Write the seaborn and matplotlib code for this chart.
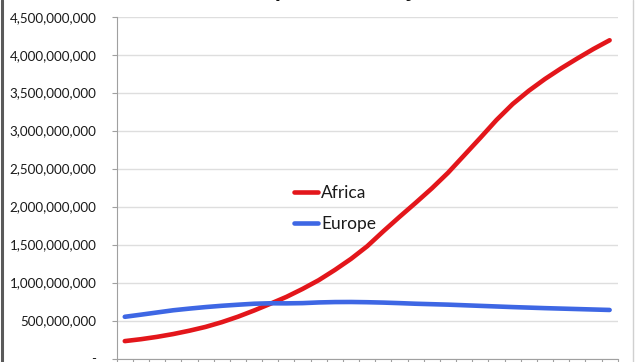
import numpy as np
import pandas as pd
import matplotlib
matplotlib.use("Agg")
import matplotlib.pyplot as plt
import seaborn as sns
from matplotlib.ticker import FuncFormatter
from matplotlib.lines import Line2D
from matplotlib.font_manager import FontProperties

# ---- data ----
years = list(range(1950, 2101, 5))
africa = [0.229, 0.254, 0.285, 0.322, 0.366, 0.416, 0.478, 0.550, 0.632, 0.720,
          0.811, 0.916, 1.031, 1.166, 1.312, 1.478, 1.675, 1.865, 2.050, 2.240,
          2.445, 2.675, 2.905, 3.140, 3.350, 3.525, 3.680, 3.820, 3.950, 4.075, 4.190]
europe = [0.549, 0.577, 0.606, 0.635, 0.657, 0.677, 0.694, 0.708, 0.721, 0.727,
          0.726, 0.729, 0.738, 0.743, 0.744, 0.741, 0.736, 0.729, 0.721, 0.715,
          0.709, 0.701, 0.693, 0.685, 0.677, 0.670, 0.663, 0.657, 0.651, 0.645, 0.639]
series_names = ["Africa", "Europe"]
y_ticks = [0, 5e8, 1e9, 1.5e9, 2e9, 2.5e9, 3e9, 3.5e9, 4e9, 4.5e9]
title = "Population Projections"

africa_abs = [v * 1e9 for v in africa]
europe_abs = [v * 1e9 for v in europe]

sns.set_theme(style="white")
plt.rcParams['font.family'] = ['Lato', 'DejaVu Sans']

W, H = 642, 362
fig = plt.figure(figsize=(W / 100, H / 100), dpi=100)
fig.patch.set_facecolor("white")
x0, x1, ytop, ybot = 116.7, 617.7, 16.7, 358.5
ax = fig.add_axes([x0 / W, 1 - ybot / H, (x1 - x0) / W, (ybot - ytop) / H])

df = pd.DataFrame({
    "Year": years * 2,
    "Population": africa_abs + europe_abs,
    "Region": [series_names[0]] * len(years) + [series_names[1]] * len(years),
})
palette = {"Africa": "#E3161B", "Europe": "#3E67E4"}
sns.lineplot(data=df, x="Year", y="Population", hue="Region", palette=palette,
             linewidth=3.3, ax=ax, legend=False, solid_capstyle="round",
             solid_joinstyle="round")

ax.set_xlim(years[0] - 2.5, years[-1] + 2.5)
ax.set_ylim(0, 4.5e9)
ax.set_yticks(y_ticks)
ax.yaxis.set_major_formatter(FuncFormatter(lambda v, p: f"{int(round(v)):,}" if v else "-"))
bounds = [years[0] - 2.5 + 5 * k for k in range(len(years) + 1)]
ax.set_xticks(bounds)
ax.set_xticklabels([""] * len(bounds))
ax.set_xlabel("")
ax.set_ylabel("")

ax.yaxis.grid(True, color="#dedede", linewidth=1.0)
ax.xaxis.grid(False)
ax.set_axisbelow(True)
for s in ["top", "right"]:
    ax.spines[s].set_visible(False)
for s in ["left", "bottom"]:
    ax.spines[s].set_color("#a0a0a0")
    ax.spines[s].set_linewidth(0.8)
ax.tick_params(axis="y", length=3.5, width=0.8, color="#a0a0a0", pad=11,
               labelsize=9.6, labelcolor="#1a1a1a", left=True)
ax.tick_params(axis="x", length=6, width=0.8, color="#a0a0a0", bottom=True,
               direction="out")

handles = [Line2D([], [], color=palette[n], linewidth=3.3) for n in series_names]
leg = ax.legend(handles, series_names, loc="upper left",
                bbox_to_anchor=(294 / W, 1 - 185 / H), bbox_transform=fig.transFigure,
                frameon=False, fontsize=12.5, handlelength=1.4, handletextpad=0.15,
                labelspacing=0.85, borderpad=0, borderaxespad=0)
for t in leg.get_texts():
    t.set_color("#1a1a1a")

# title: only its descenders fall inside the (cropped) picture
renderer = fig.canvas.get_renderer()
def text_w(s, size):
    fp = FontProperties(family=['Lato'], weight='bold', size=size)
    w, h, d = renderer.get_text_width_height_descent(s, fp, ismath=False)
    return w
base = 15.0
span = text_w("Population Pro", base) - text_w("Po", base)
tsize = base * 133.0 / span
tstart = 275.0 - text_w("Po", tsize)
fig.text(tstart / W, 1 + 2.8 / H, title, ha="left", va="baseline",
         fontsize=tsize, fontweight="bold", color="#111111")

fig.add_artist(Line2D([2 / W, 2 / W], [0, 1], transform=fig.transFigure,
                      color="#5a5a5a", linewidth=2.2))
fig.add_artist(Line2D([633 / W, 633 / W], [0, 1], transform=fig.transFigure,
                      color="#d0d0d0", linewidth=1.0))

fig.savefig("out.png", dpi=100)
